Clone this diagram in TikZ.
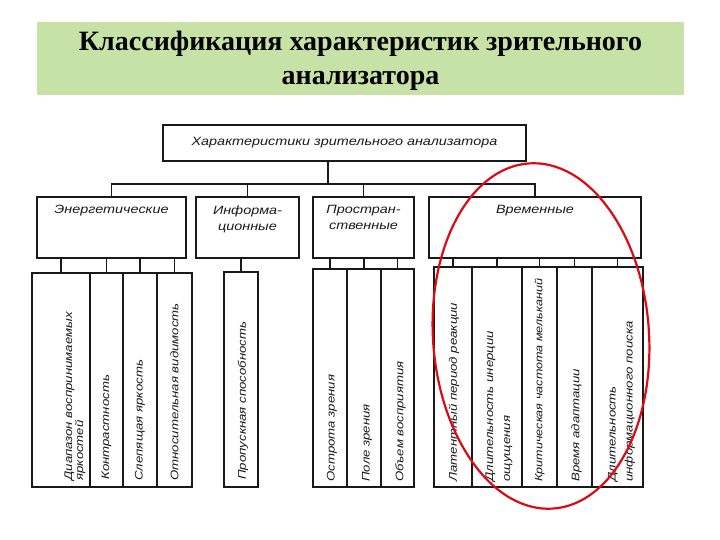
\documentclass[tikz,border=0pt]{standalone}
\usepackage{fontspec}
\setmainfont{Liberation Serif}
\newfontfamily\diag[FakeStretch=1.2]{Liberation Sans}
\definecolor{banner}{RGB}{199,226,166}
\definecolor{ink}{RGB}{25,25,25}
\definecolor{mark}{RGB}{220,10,20}
\begin{document}
\begin{tikzpicture}[x=1pt,y=-1pt,
  box/.style={draw=ink, line width=1.6pt, inner sep=0pt, rectangle},
  hdr/.style={inner sep=0pt, anchor=north, align=center, text=ink,
    font=\diag\itshape\fontsize{12}{16}\selectfont},
  vtxt/.style={inner sep=0pt, anchor=west, rotate=90, align=left, text=ink,
    font=\diag\itshape\fontsize{11}{13}\selectfont},
  conn/.style={draw=ink, line width=1.4pt},
  oval/.style={draw=mark, line width=2.2pt}]
\useasboundingbox (0,0) rectangle (720,540);
% title banner
\node[fill=banner, minimum width=647, minimum height=73, inner sep=0pt] (banner) at (360.5,58.5) {};
\node[align=center, font=\bfseries\fontsize{28}{34}\selectfont, inner sep=0pt] (title) at (360.5,61)
  {Классификация характеристик зрительного\\анализатора};
% top box
\node[box, minimum width=363, minimum height=36, text=ink,
  font=\diag\itshape\fontsize{12}{14}\selectfont] (top) at (344.5,143) {Характеристики зрительного анализатора};
% second level
\node[box, minimum width=149, minimum height=61] (en) at (111.5,227.5) {};
\node[box, minimum width=103, minimum height=61] (inf) at (247.5,227.5) {};
\node[box, minimum width=101, minimum height=61] (pr) at (363.5,227.5) {};
\node[box, minimum width=212, minimum height=61] (vr) at (535,227.5) {};
\node[hdr] (en-t) at ([yshift=-9pt]en.north) {Энергетические};
\node[hdr] (inf-t) at ([yshift=-9pt]inf.north) {Информа-\\ционные};
\node[hdr] (pr-t) at ([yshift=-9pt]pr.north) {Простран-\\ственные};
\node[hdr] (vr-t) at ([yshift=-9pt]vr.north) {Временные};
% bus
\coordinate (bus) at (328,184);
\draw[conn] (top.south -| bus) -- (bus);
\draw[conn] (en.north) -- (en.north |- bus) -- (vr.north |- bus) -- (vr.north);
\draw[conn] (inf.north) -- (inf.north |- bus);
\draw[conn] (pr.north) -- (pr.north |- bus);
% third level: energetic
\node[box, minimum width=58, minimum height=214] (e1) at (61,380) {};
\node[box, minimum width=33, minimum height=214] (e2) at (106.5,380) {};
\node[box, minimum width=34, minimum height=214] (e3) at (140,380) {};
\node[box, minimum width=35, minimum height=214] (e4) at (174.5,380) {};
% informational
\node[box, minimum width=34, minimum height=215] (i1) at (241,379.5) {};
% spatial
\node[box, minimum width=34, minimum height=218] (p1) at (330,378) {};
\node[box, minimum width=34, minimum height=218] (p2) at (364,378) {};
\node[box, minimum width=33, minimum height=218] (p3) at (397.5,378) {};
% temporal
\node[box, minimum width=38, minimum height=220] (v1) at (453,377) {};
\node[box, minimum width=50, minimum height=220] (v2) at (497,377) {};
\node[box, minimum width=35, minimum height=220] (v3) at (539.5,377) {};
\node[box, minimum width=35, minimum height=220] (v4) at (574.5,377) {};
\node[box, minimum width=51, minimum height=220] (v5) at (617.5,377) {};
% connectors to third level
\foreach \s in {e1,e2,e3,e4} \draw[conn] (\s.north) -- (\s.north |- en.south);
\draw[conn] (i1.north) -- (i1.north |- inf.south);
\foreach \s in {p1,p2,p3} \draw[conn] (\s.north) -- (\s.north |- pr.south);
\foreach \s in {v1,v2,v3,v4,v5} \draw[conn] (\s.north) -- (\s.north |- vr.south);
% vertical texts
\node[vtxt, font=\diag\itshape\fontsize{11}{11}\selectfont] (e1-t) at ([xshift=14pt,yshift=7pt]e1.south) {Диапазон воспринимаемых\\яркостей};
\node[vtxt] (e2-t) at ([yshift=8pt]e2.south) {Контрастность};
\node[vtxt] (e3-t) at ([yshift=7pt]e3.south) {Слепящая яркость};
\node[vtxt] (e4-t) at ([yshift=7pt]e4.south) {Относительная видимость};
\node[vtxt] (i1-t) at ([xshift=2pt,yshift=8pt]i1.south) {Пропускная способность};
\node[vtxt] (p1-t) at ([xshift=2pt,yshift=6pt]p1.south) {Острота зрения};
\node[vtxt] (p2-t) at ([xshift=3pt,yshift=6pt]p2.south) {Поле зрения};
\node[vtxt] (p3-t) at ([xshift=3pt,yshift=6pt]p3.south) {Объем восприятия};
\node[vtxt] (v1-t) at ([xshift=1pt,yshift=6pt]v1.south) {Латентный период реакции};
\node[vtxt, font=\diag\itshape\fontsize{11}{17}\selectfont] (v2-t) at ([xshift=2pt,yshift=6pt]v2.south) {Длительность инерции\\ощущения};
\node[vtxt, font=\diag\itshape\fontsize{10.5}{13}\selectfont] (v3-t) at ([yshift=6pt]v3.south) {Критическая частота мельканий};
\node[vtxt] (v4-t) at ([xshift=2pt,yshift=6pt]v4.south) {Время адаптации};
\node[vtxt, font=\diag\itshape\fontsize{11}{17}\selectfont] (v5-t) at ([xshift=4pt,yshift=6pt]v5.south) {Длительность\\информационного поиска};
% red oval
\coordinate (oc) at (541,336);
\draw[oval, rotate around={4:(oc)}] (oc) ellipse [x radius=108, y radius=173];
\end{tikzpicture}
\end{document}
